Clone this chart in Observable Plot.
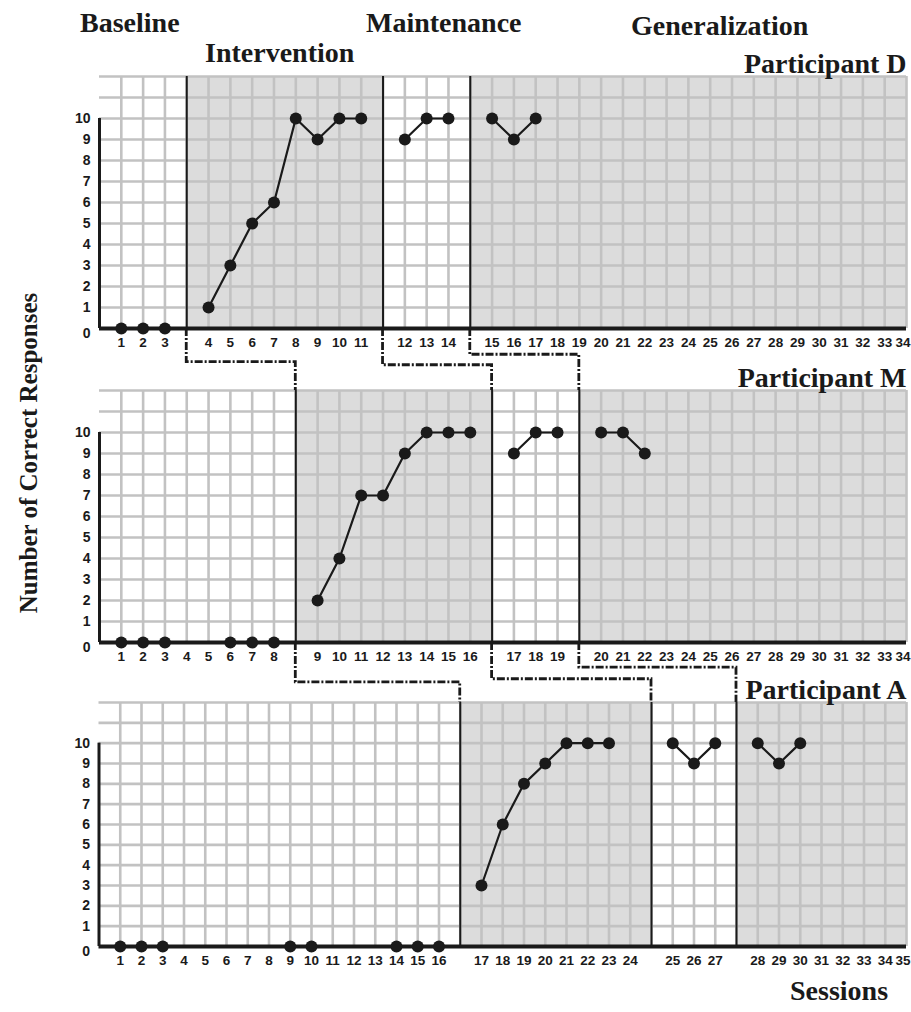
<!DOCTYPE html>
<html>
<head>
<meta charset="utf-8">
<script src="https://cdn.jsdelivr.net/npm/d3@7"></script>
<script src="https://cdn.jsdelivr.net/npm/@observablehq/plot@0.6"></script>
<style>
  body { margin: 0; background: #fff; }
  #chart { position: relative; width: 911px; height: 1012px; overflow: hidden; background: #fff; }
</style>
</head>
<body>
<div id="chart"></div>
<script>
// ---------- data ----------
const phaseTitles = ["Baseline", "Intervention", "Maintenance", "Generalization"];
const participants = ["Participant D", "Participant M", "Participant A"];
const yTicks = [0, 1, 2, 3, 4, 5, 6, 7, 8, 9, 10];
const yMax = 12;
const xTitle = "Sessions";
const yTitle = "Number of Correct Responses";

// Participant D
const dSessions = [1, 2, 3, 4, 5, 6, 7, 8, 9, 10, 11, 12, 13, 14, 15, 16, 17];
const dCorrect  = [0, 0, 0, 1, 3, 5, 6, 10, 9, 10, 10, 9, 10, 10, 10, 9, 10];
const dPhaseStarts = [4, 12, 15];   // first session of Intervention, Maintenance, Generalization
const dLastSession = 34;

// Participant M
const mSessions = [1, 2, 3, 6, 7, 8, 9, 10, 11, 12, 13, 14, 15, 16, 17, 18, 19, 20, 21, 22];
const mCorrect  = [0, 0, 0, 0, 0, 0, 2, 4, 7, 7, 9, 10, 10, 10, 9, 10, 10, 10, 10, 9];
const mPhaseStarts = [9, 17, 20];
const mLastSession = 34;

// Participant A
const aSessions = [1, 2, 3, 9, 10, 14, 15, 16, 17, 18, 19, 20, 21, 22, 23, 25, 26, 27, 28, 29, 30];
const aCorrect  = [0, 0, 0, 0, 0, 0, 0, 0, 3, 6, 8, 9, 10, 10, 10, 10, 9, 10, 10, 9, 10];
const aPhaseStarts = [17, 25, 28];
const aLastSession = 35;

// level (in the upper panel's y units) of the horizontal leg of each staircase connector
const connectorDrop = [[-1.6, -1.75, -1.25], [-1.9, -1.75, -1.2]];

// ---------- layout ----------
const W = 911;
const layout = [
  { top: 40,  marginTop: 36, marginLeft: 99,   innerH: 252 },
  { top: 355, marginTop: 35, marginLeft: 99,   innerH: 252 },
  { top: 668, marginTop: 34, marginLeft: 98.5, innerH: 244 }
];
const sansBold = "'Liberation Sans', Arial, Helvetica, sans-serif";
const serif = "'Liberation Serif', 'Times New Roman', serif";
const ink = "#1a1a1a";

function buildPanel(sessions, correct, phaseStarts, lastSession, name, lay) {
  const phaseOf = s => phaseStarts.filter(p => s >= p).length;
  const slotOf = s => s + phaseOf(s);
  const N = lastSession + phaseStarts.length;
  const lines = phaseStarts.map(p => slotOf(p) - 1);
  const points = sessions.map((s, i) => ({ session: s, slot: slotOf(s), correct: correct[i], phase: phaseOf(s) }));
  const ticks = d3.range(1, lastSession + 1).map(s => ({ slot: slotOf(s), label: String(s) }));
  const innerTicks = ticks.slice(0, -1);
  const lastTick = ticks.slice(-1);
  const shaded = [{ x1: lines[0], x2: lines[1] }, { x1: lines[2], x2: N }];
  const marginBottom = 28;
  const tickText = { y: 0, text: "label", dy: 14, fontSize: 13.5, fontWeight: "bold", fontFamily: sansBold, fill: ink };
  const plot = Plot.plot({
    width: W,
    height: lay.marginTop + lay.innerH + marginBottom,
    marginTop: lay.marginTop,
    marginBottom,
    marginLeft: lay.marginLeft,
    marginRight: 5,
    x: { domain: [0, N], axis: null },
    y: { domain: [0, yMax], axis: null },
    style: { background: "transparent", overflow: "visible" },
    marks: [
      Plot.rect(shaded, { x1: "x1", x2: "x2", y1: 0, y2: yMax, fill: "#dcdcdc" }),
      Plot.ruleY(d3.range(1, yMax + 1), { stroke: "#c2c2c2", strokeWidth: 2.6 }),
      Plot.ruleX(d3.range(1, N + 1), { stroke: "#c2c2c2", strokeWidth: 2.6 }),
      Plot.ruleX(lines, { stroke: ink, strokeWidth: 2 }),
      Plot.ruleX([0], { y1: 0, y2: 10, stroke: ink, strokeWidth: 3 }),
      Plot.ruleY([0], { stroke: ink, strokeWidth: 4 }),
      Plot.line(points, { x: "slot", y: "correct", z: "phase", stroke: ink, strokeWidth: 2.2 }),
      Plot.dot(points, { x: "slot", y: "correct", r: 6, fill: ink, stroke: "none" }),
      Plot.text(innerTicks, { x: "slot", ...tickText }),
      Plot.text(lastTick, { x: "slot", ...tickText, textAnchor: "end", dx: 4 }),
      Plot.text(yTicks.filter(v => v > 0), { x: 0, y: d => d, text: d => String(d), dx: -9, textAnchor: "end", fontSize: 14, fontWeight: "bold", fontFamily: sansBold, fill: ink }),
      Plot.text(yTicks.filter(v => v === 0), { x: 0, y: d => d, text: d => String(d), dx: -9, dy: 5, textAnchor: "end", fontSize: 14, fontWeight: "bold", fontFamily: sansBold, fill: ink }),
      Plot.text([name], { x: N, y: yMax, text: d => d, textAnchor: "end", dy: -12, fontSize: 28, fontWeight: "bold", fontFamily: serif, fill: ink })
    ]
  });
  plot.style.position = "absolute";
  plot.style.left = "0px";
  plot.style.top = lay.top + "px";
  return { plot, lines, top: lay.top };
}

const chart = document.getElementById("chart");
const panels = [
  buildPanel(dSessions, dCorrect, dPhaseStarts, dLastSession, participants[0], layout[0]),
  buildPanel(mSessions, mCorrect, mPhaseStarts, mLastSession, participants[1], layout[1]),
  buildPanel(aSessions, aCorrect, aPhaseStarts, aLastSession, participants[2], layout[2])
];
panels.forEach(p => chart.appendChild(p.plot));

// ---------- overlay: staircase connectors and titles ----------
const ov = d3.select(chart).append("svg")
  .attr("width", W).attr("height", 1012)
  .style("position", "absolute").style("left", "0px").style("top", "0px")
  .style("pointer-events", "none");

for (let i = 0; i < panels.length - 1; i++) {
  const up = panels[i], lo = panels[i + 1];
  const ux = up.plot.scale("x"), uy = up.plot.scale("y");
  const lx = lo.plot.scale("x"), ly = lo.plot.scale("y");
  up.lines.forEach((ls, j) => {
    const x1 = ux.apply(ls);
    const y0 = up.top + uy.apply(0);
    const yl = up.top + uy.apply(connectorDrop[i][j]);
    const x2 = lx.apply(lo.lines[j]);
    const y2 = lo.top + ly.apply(yMax);
    ov.append("path")
      .attr("d", `M${x1},${y0}V${yl}H${x2}V${y2}`)
      .attr("fill", "none")
      .attr("stroke", ink)
      .attr("stroke-width", 2.8)
      .attr("stroke-dasharray", "8 2 2 2");
  });
}

const titlePos = [[80, 32], [205, 62], [366, 32], [631, 35]];
phaseTitles.forEach((t, i) => {
  ov.append("text")
    .attr("x", titlePos[i][0]).attr("y", titlePos[i][1])
    .attr("font-family", serif).attr("font-size", 28)
    .attr("font-weight", "bold").attr("fill", ink)
    .text(t);
});
ov.append("text")
  .attr("x", 790).attr("y", 1000)
  .attr("font-family", serif).attr("font-size", 28)
  .attr("font-weight", "bold").attr("fill", ink)
  .text(xTitle);
ov.append("text")
  .attr("transform", "translate(37,453) rotate(-90)")
  .attr("text-anchor", "middle")
  .attr("font-family", serif).attr("font-size", 25)
  .attr("font-weight", "bold").attr("fill", ink)
  .text(yTitle);
</script>
</body>
</html>
